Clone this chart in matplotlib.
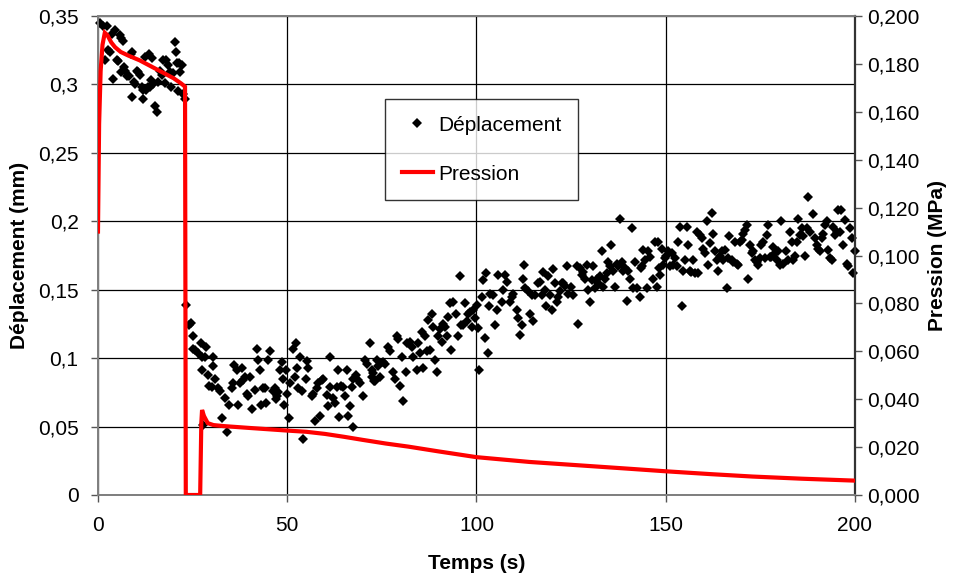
import matplotlib
matplotlib.use("Agg")
import matplotlib.pyplot as plt
from matplotlib.ticker import FuncFormatter
from matplotlib.lines import Line2D

plt.rcParams['font.family'] = ['Liberation Sans', 'DejaVu Sans']

# Displacement measurements (time in s, displacement in mm)
disp_loading = [
    (0.5, 0.345), (1.4, 0.343), (1.9, 0.318), (2.3, 0.343), (2.7, 0.325), (3.2, 0.324),
    (3.6, 0.337), (4.0, 0.304), (4.5, 0.340), (4.9, 0.318), (5.3, 0.317), (5.7, 0.336),
    (6.0, 0.309), (6.2, 0.334), (6.7, 0.332), (6.9, 0.313), (7.1, 0.310), (7.6, 0.306),
    (8.3, 0.306), (8.6, 0.322), (8.9, 0.324), (9.1, 0.291), (9.4, 0.302), (9.8, 0.300),
    (10.2, 0.310), (10.6, 0.309), (11.1, 0.307), (11.5, 0.298), (11.8, 0.296), (12.0, 0.289),
    (12.4, 0.320), (12.8, 0.296), (13.1, 0.298), (13.4, 0.322), (13.7, 0.298), (14.0, 0.303),
    (14.3, 0.319), (14.6, 0.300), (15.1, 0.284), (15.5, 0.280), (15.9, 0.302), (16.4, 0.310),
    (16.8, 0.307), (17.3, 0.318), (17.7, 0.301), (18.1, 0.318), (18.6, 0.314), (19.0, 0.309),
    (19.3, 0.298), (19.7, 0.308), (20.3, 0.331), (20.5, 0.324), (20.8, 0.316), (21.2, 0.295),
    (21.5, 0.316), (21.8, 0.309), (22.1, 0.314), (22.4, 0.293), (22.9, 0.289),
]

disp_unloading = [
    (23.3, 0.139), (24.1, 0.124), (24.6, 0.126), (25.0, 0.107), (25.2, 0.116), (25.6, 0.106),
    (26.5, 0.104), (27.1, 0.111), (27.4, 0.101), (27.6, 0.091), (27.8, 0.051), (28.3, 0.101),
    (28.5, 0.108), (29.1, 0.088), (29.3, 0.080), (30.0, 0.079), (30.3, 0.094), (30.5, 0.101),
    (30.9, 0.085), (31.8, 0.078), (32.2, 0.076), (32.7, 0.056), (33.6, 0.071), (34.0, 0.046),
    (34.7, 0.066), (35.3, 0.078), (35.6, 0.082), (35.9, 0.095), (36.6, 0.091), (37.1, 0.066),
    (37.5, 0.082), (38.0, 0.093), (38.4, 0.084), (38.8, 0.086), (39.3, 0.074), (39.7, 0.072),
    (40.2, 0.086), (40.6, 0.063), (41.5, 0.077), (41.9, 0.107), (42.4, 0.099), (42.8, 0.091),
    (43.2, 0.066), (43.7, 0.078), (44.0, 0.078), (44.3, 0.067), (45.0, 0.099), (45.4, 0.105),
    (46.3, 0.076), (46.8, 0.078), (47.0, 0.070), (47.3, 0.072), (47.6, 0.075), (48.1, 0.091),
    (48.5, 0.097), (49.0, 0.085), (49.2, 0.066), (49.7, 0.091), (50.0, 0.074), (50.5, 0.056),
    (50.8, 0.082), (51.6, 0.107), (52.0, 0.086), (52.3, 0.111), (52.5, 0.093), (52.9, 0.078),
    (53.4, 0.101), (53.8, 0.076), (54.2, 0.041), (55.0, 0.085), (55.2, 0.098), (55.6, 0.093),
    (56.5, 0.072), (56.9, 0.074), (57.3, 0.054), (57.8, 0.078), (58.2, 0.082), (58.7, 0.058),
    (59.1, 0.084), (59.5, 0.085), (60.4, 0.073), (60.8, 0.065), (61.2, 0.101), (61.4, 0.079),
    (62.2, 0.071), (62.6, 0.067), (63.1, 0.079), (63.4, 0.091), (63.6, 0.057), (64.3, 0.080),
    (64.8, 0.079), (65.3, 0.072), (65.7, 0.091), (66.1, 0.058), (66.6, 0.065), (67.0, 0.079),
    (67.3, 0.050), (67.5, 0.085), (68.3, 0.088), (68.8, 0.084), (69.2, 0.082), (70.1, 0.072),
    (70.5, 0.099), (71.0, 0.096), (71.9, 0.111), (72.3, 0.091), (72.5, 0.086), (73.2, 0.083),
    (73.6, 0.099),
]

disp_creep_a = [
    (72.7, 0.089), (72.9, 0.083), (73.9, 0.094), (74.5, 0.086), (75.4, 0.097), (75.8, 0.096),
    (76.7, 0.108), (77.1, 0.105), (78.0, 0.090), (78.5, 0.085), (78.9, 0.116), (79.3, 0.114),
    (79.8, 0.080), (80.2, 0.101), (80.7, 0.069), (81.4, 0.090), (81.6, 0.111), (82.4, 0.112),
    (82.9, 0.108), (83.3, 0.101), (84.2, 0.091), (84.6, 0.111), (85.1, 0.104), (85.5, 0.119),
    (86.0, 0.093), (86.4, 0.116), (86.8, 0.105), (87.3, 0.128), (87.7, 0.106), (88.2, 0.132),
    (88.6, 0.123), (89.0, 0.099), (89.5, 0.090), (89.9, 0.116), (90.4, 0.121), (90.8, 0.112),
    (91.2, 0.125), (91.7, 0.123), (92.1, 0.116), (92.6, 0.130), (93.0, 0.140), (93.4, 0.106),
    (93.9, 0.141), (94.6, 0.132), (95.2, 0.116), (95.6, 0.160), (95.8, 0.124), (96.5, 0.124),
    (97.0, 0.140), (97.4, 0.127), (97.8, 0.132), (98.3, 0.134), (98.7, 0.123), (99.2, 0.135),
    (99.6, 0.129), (100.1, 0.139), (100.5, 0.122), (100.7, 0.091), (101.4, 0.145), (101.8, 0.157),
    (102.2, 0.115), (102.5, 0.162), (103.0, 0.104), (103.2, 0.138), (103.6, 0.147), (104.4, 0.146),
    (104.9, 0.124), (105.3, 0.135), (105.8, 0.161), (106.7, 0.141), (107.1, 0.150), (107.5, 0.161),
    (108.0, 0.156), (108.9, 0.141), (109.3, 0.145), (109.7, 0.147), (110.6, 0.135), (111.0, 0.129),
    (111.5, 0.117), (111.9, 0.124), (112.2, 0.158), (112.6, 0.168), (112.9, 0.151), (113.7, 0.149),
    (114.1, 0.132), (114.6, 0.146), (115.0, 0.127), (115.5, 0.146), (116.3, 0.155), (116.8, 0.156),
    (117.2, 0.146), (117.6, 0.163), (118.1, 0.150), (118.5, 0.138), (119.0, 0.160), (119.4, 0.146),
    (119.9, 0.135), (120.3, 0.165), (120.7, 0.155), (121.2, 0.141), (121.6, 0.145), (122.1, 0.149),
    (122.5, 0.155), (122.9, 0.155), (123.4, 0.153),
]

disp_creep_b = [
    (123.8, 0.167), (124.3, 0.147), (125.1, 0.152), (125.6, 0.146), (126.5, 0.167), (126.9, 0.125),
    (127.3, 0.166), (127.8, 0.161), (128.2, 0.163), (128.7, 0.158), (129.1, 0.168), (129.5, 0.150),
    (130.0, 0.141), (130.4, 0.157), (130.9, 0.167), (131.3, 0.151), (131.8, 0.158), (132.2, 0.155),
    (132.6, 0.160), (133.1, 0.178), (133.5, 0.152), (134.0, 0.158), (134.4, 0.162), (134.8, 0.170),
    (135.3, 0.167), (135.5, 0.183), (136.1, 0.164), (136.6, 0.152), (137.0, 0.169), (137.4, 0.167),
    (137.9, 0.202), (138.4, 0.170), (138.8, 0.164), (139.2, 0.166), (139.7, 0.142), (140.1, 0.164),
    (140.6, 0.158), (141.0, 0.195), (141.4, 0.151), (141.9, 0.170), (142.3, 0.151), (143.2, 0.145),
    (143.4, 0.166), (143.6, 0.167), (144.1, 0.179), (144.5, 0.172), (145.1, 0.151), (145.4, 0.178),
    (145.8, 0.174), (146.7, 0.158), (147.2, 0.185), (147.6, 0.152), (148.0, 0.185), (148.2, 0.166),
    (148.5, 0.161), (148.9, 0.180), (149.4, 0.168), (149.8, 0.173), (150.2, 0.175), (150.7, 0.178),
    (151.1, 0.167), (151.6, 0.177), (152.0, 0.168), (152.4, 0.173), (152.9, 0.167), (153.3, 0.185),
    (153.8, 0.196), (154.2, 0.138), (154.6, 0.164), (155.1, 0.172), (155.5, 0.196), (156.0, 0.183),
    (156.3, 0.164), (156.8, 0.163), (157.3, 0.172), (157.7, 0.162), (158.2, 0.192), (158.6, 0.162),
    (159.0, 0.190), (159.5, 0.188), (159.9, 0.180), (160.4, 0.177), (160.8, 0.200), (161.2, 0.168),
    (161.7, 0.184), (162.1, 0.206), (162.6, 0.191), (163.0, 0.178), (163.5, 0.172), (163.9, 0.164),
    (164.3, 0.175), (164.8, 0.178), (165.2, 0.172), (165.7, 0.179), (166.1, 0.151), (166.5, 0.173),
    (166.8, 0.189), (167.4, 0.172), (167.9, 0.170), (168.3, 0.185), (168.7, 0.169), (169.2, 0.168),
    (169.6, 0.185), (170.1, 0.186), (170.5, 0.191), (170.9, 0.194), (171.4, 0.197), (171.8, 0.158),
    (172.3, 0.183), (172.7, 0.177), (173.1, 0.178), (173.6, 0.172), (174.0, 0.170), (174.5, 0.168),
    (174.9, 0.173), (175.3, 0.183), (175.8, 0.185), (176.2, 0.173), (176.7, 0.190), (177.1, 0.197),
    (177.5, 0.174), (177.9, 0.174), (178.4, 0.181), (178.9, 0.177), (179.3, 0.172), (179.7, 0.178),
    (180.2, 0.168), (180.5, 0.200), (181.0, 0.169), (181.9, 0.178), (182.4, 0.172), (182.8, 0.192),
    (183.3, 0.185), (183.7, 0.172), (184.2, 0.175), (184.6, 0.185), (185.0, 0.202), (185.5, 0.190),
    (185.9, 0.195), (186.3, 0.189), (186.8, 0.175), (187.2, 0.195), (187.7, 0.218), (188.1, 0.192),
    (188.8, 0.205), (189.4, 0.188), (189.9, 0.183), (190.3, 0.180), (190.8, 0.178), (191.2, 0.188),
    (191.6, 0.191), (192.1, 0.197), (192.5, 0.200), (193.0, 0.179), (193.4, 0.173), (193.8, 0.172),
    (194.3, 0.196), (194.7, 0.190), (195.2, 0.192), (195.6, 0.208), (196.0, 0.192), (196.4, 0.208),
    (196.9, 0.183), (197.4, 0.201), (197.8, 0.169), (198.2, 0.167), (198.7, 0.195), (199.1, 0.188),
    (199.6, 0.162), (200.0, 0.178),
]

# Applied pressure (time in s, pressure in MPa)
pressure_time = [0, 0.3, 0.7, 1.2, 1.8, 2.5, 3.5, 4.5, 6, 8, 11, 14, 17, 20, 22, 23.0,
                 23.2, 27.0, 27.3, 27.5, 28.0, 29.0, 30.5, 33, 40, 50, 55, 60, 65, 70,
                 76, 82, 90, 100, 114, 127, 140, 150, 162, 173, 186, 200]
pressure_mpa = [0.110, 0.155, 0.177, 0.188, 0.193, 0.192, 0.189, 0.187, 0.185, 0.1835,
                0.1815, 0.179, 0.1765, 0.174, 0.1718, 0.1705, 0.0, 0.0, 0.030, 0.0355,
                0.033, 0.030, 0.0292, 0.0288, 0.028, 0.0269, 0.0264, 0.0255, 0.0243,
                0.023, 0.0215, 0.0202, 0.0182, 0.0158, 0.0138, 0.0124, 0.011, 0.0099,
                0.0087, 0.0077, 0.0068, 0.006]

x_ticks = [0, 50, 100, 150, 200]
disp_ticks = [0, 0.05, 0.1, 0.15, 0.2, 0.25, 0.3, 0.35]
pressure_ticks = [0, 0.02, 0.04, 0.06, 0.08, 0.1, 0.12, 0.14, 0.16, 0.18, 0.2]

FS = 15

fig = plt.figure(figsize=(9.54, 5.78), dpi=100)
ax = fig.add_axes([0.1027, 0.1436, 0.7935, 0.8287])
ax2 = ax.twinx()

points = disp_loading + disp_unloading + disp_creep_a + disp_creep_b
t_d = [p[0] for p in points]
d_mm = [p[1] for p in points]

ax.plot(t_d, d_mm, linestyle='none', marker='D', markersize=5.6,
        color='black', markeredgewidth=0, zorder=3, clip_on=False)
ax2.plot(pressure_time, pressure_mpa, color='#ff0000', linewidth=3,
         solid_joinstyle='miter', zorder=3)

ax.set_xlim(0, 200)
ax.set_ylim(0, 0.35)
ax2.set_ylim(0, 0.2)
ax.set_xticks(x_ticks)
ax.set_yticks(disp_ticks)
ax2.set_yticks(pressure_ticks)

ax.yaxis.set_major_formatter(FuncFormatter(lambda v, p: f"{v:g}".replace('.', ',')))
ax2.yaxis.set_major_formatter(FuncFormatter(lambda v, p: f"{v:.3f}".replace('.', ',')))

ax.grid(True, color='black', linewidth=0.9)
ax.set_axisbelow(True)

for a in (ax, ax2):
    a.tick_params(direction='out', length=5, width=1, color='#555555',
                  labelsize=FS, pad=4)
    for s in a.spines.values():
        s.set_color('#808080')
        s.set_linewidth(1.3)
ax.tick_params(axis='x', pad=10)
ax.tick_params(axis='y', pad=9)
ax2.spines['right'].set_color('#333333')
ax2.spines['right'].set_linewidth(1.6)

ax.set_xlabel('Temps (s)', fontsize=FS, fontweight='bold', labelpad=14)
ax.set_ylabel('Déplacement (mm)', fontsize=FS, fontweight='bold', labelpad=6)
ax2.set_ylabel('Pression (MPa)', fontsize=FS, fontweight='bold', labelpad=6)

handles = [
    Line2D([], [], linestyle='none', marker='D', markersize=5, color='black',
           markeredgewidth=0),
    Line2D([], [], color='#ff0000', linewidth=3),
]
leg = ax2.legend(handles, ['Déplacement', 'Pression'], loc='upper left',
                 bbox_to_anchor=(0.379, 0.827), borderaxespad=0, fontsize=FS,
                 frameon=True, fancybox=False, edgecolor='black',
                 handlelength=1.5, handletextpad=0.25, labelspacing=1.45,
                 borderpad=0.8)
leg.get_frame().set_linewidth(1.0)

fig.savefig('out.png', dpi=100)
